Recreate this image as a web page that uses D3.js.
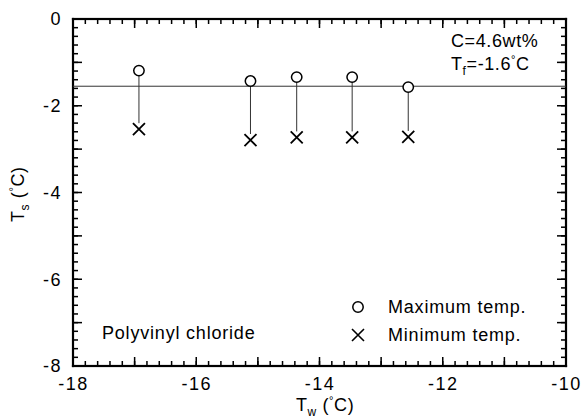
<!DOCTYPE html>
<html>
<head>
<meta charset="utf-8">
<script src="https://cdn.jsdelivr.net/npm/d3@7"></script>
<style>
  html, body { margin: 0; padding: 0; background: #fff; }
  svg { display: block; font-family: "Liberation Sans", Arial, Helvetica, sans-serif; }
</style>
</head>
<body>
<svg id="chart" width="582" height="419"></svg>
<script>
// ---- data ----
const waterTemp = [-16.93, -15.12, -14.37, -13.47, -12.56];      // T_w (°C)
const maxTemp   = [-1.19, -1.43, -1.34, -1.34, -1.57];           // Maximum temp. T_s
const minTemp   = [-2.54, -2.79, -2.73, -2.73, -2.72];           // Minimum temp. T_s
const freezeTemp = -1.55;                                        // T_f line
const xTickValues = [-18, -16, -14, -12, -10];
const yTickValues = [0, -2, -4, -6, -8];
const legendLabels = ["Maximum temp.", "Minimum temp."];
const material = "Polyvinyl chloride";

// ---- layout ----
const svg = d3.select("#chart");
const pL = 73, pR = 566, pT = 19, pB = 366;
const x = d3.scaleLinear().domain([-18, -10]).range([pL, pR]);
const y = d3.scaleLinear().domain([0, -8]).range([pT, pB]);
const fw = 2.2; // frame thickness

// frame as four filled bars (from the scales' extents)
const [x0, x1] = x.range(), [y0, y1] = y.range();
const bars = [
  { x: x0 - fw / 2, y: y0 - fw / 2, w: x1 - x0 + fw, h: fw },
  { x: x0 - fw / 2, y: y1 - fw / 2, w: x1 - x0 + fw, h: fw },
  { x: x0 - fw / 2, y: y0 - fw / 2, w: fw, h: y1 - y0 + fw },
  { x: x1 - fw / 2, y: y0 - fw / 2, w: fw, h: y1 - y0 + fw }
];
svg.append("g").selectAll("rect").data(bars).join("rect")
  .attr("x", d => d.x).attr("y", d => d.y).attr("width", d => d.w).attr("height", d => d.h)
  .attr("fill", "#000");

// inward ticks on all four sides, as thin filled rects
const minorX = d3.range(0, 41).map(i => -18 + i * 0.2);
const majorX = d3.range(0, 9).map(i => -18 + i);
const minorY = d3.range(0, 41).map(i => -i * 0.2);
const majorY = d3.range(0, 9).map(i => -i);
const tw = 1.5;
const tg = svg.append("g").attr("fill", "#000");
function xTicks(vals, len) {
  tg.append("g").selectAll("rect").data(vals).join("rect")
    .attr("x", d => x(d) - tw / 2).attr("y", y1 - len).attr("width", tw).attr("height", len);
  tg.append("g").selectAll("rect").data(vals).join("rect")
    .attr("x", d => x(d) - tw / 2).attr("y", y0).attr("width", tw).attr("height", len);
}
function yTicks(vals, len) {
  tg.append("g").selectAll("rect").data(vals).join("rect")
    .attr("y", d => y(d) - tw / 2).attr("x", x0).attr("height", tw).attr("width", len);
  tg.append("g").selectAll("rect").data(vals).join("rect")
    .attr("y", d => y(d) - tw / 2).attr("x", x1 - len).attr("height", tw).attr("width", len);
}
xTicks(minorX, 5); xTicks(majorX, 9);
yTicks(minorY, 5); yTicks(majorY, 9);

// tick labels
const xl = svg.append("g").attr("transform", `translate(0,${pB})`)
  .call(d3.axisBottom(x).tickValues(xTickValues).tickSize(0).tickPadding(11)
    .tickFormat(d => String(d)));
xl.select(".domain").remove();
xl.selectAll("text").attr("font-size", 18).attr("letter-spacing", 1.5).attr("fill", "#000")
  .attr("font-family", "Liberation Sans, Arial, sans-serif");

const yl = svg.append("g").attr("transform", `translate(${pL},0)`)
  .call(d3.axisLeft(y).tickValues(yTickValues).tickSize(0).tickPadding(11)
    .tickFormat(d => String(d)));
yl.select(".domain").remove();
yl.selectAll("text").attr("font-size", 18).attr("letter-spacing", 1.5).attr("fill", "#000")
  .attr("font-family", "Liberation Sans, Arial, sans-serif");

// freezing line
svg.append("line").attr("x1", pL).attr("x2", pR).attr("y1", y(freezeTemp)).attr("y2", y(freezeTemp))
  .attr("stroke", "#333").attr("stroke-width", 1);

// connectors
const pts = waterTemp.map((w, i) => ({ w, hi: maxTemp[i], lo: minTemp[i] }));
svg.append("g").selectAll("line").data(pts).join("line")
  .attr("x1", d => x(d.w)).attr("x2", d => x(d.w))
  .attr("y1", d => y(d.hi) + 5).attr("y2", d => y(d.lo) - 6)
  .attr("stroke", "#333").attr("stroke-width", 1);

// markers
const rad = 5.2, half = 6;
function crossPath(cx, cy) {
  return `M${cx - half},${cy - half}L${cx + half},${cy + half}M${cx - half},${cy + half}L${cx + half},${cy - half}`;
}
svg.append("g").selectAll("circle").data(pts).join("circle")
  .attr("cx", d => x(d.w)).attr("cy", d => y(d.hi)).attr("r", rad)
  .attr("fill", "#fff").attr("stroke", "#000").attr("stroke-width", 1.5);
svg.append("g").selectAll("path").data(pts).join("path")
  .attr("d", d => crossPath(x(d.w), y(d.lo)))
  .attr("fill", "none").attr("stroke", "#000").attr("stroke-width", 1.8);

// legend
const lg = svg.append("g").attr("font-size", 18).attr("letter-spacing", 0.8);
lg.append("circle").attr("cx", 358).attr("cy", 307).attr("r", rad)
  .attr("fill", "#fff").attr("stroke", "#000").attr("stroke-width", 1.5);
lg.append("path").attr("d", crossPath(358, 335)).attr("stroke", "#000").attr("stroke-width", 1.6);
lg.append("text").attr("x", 388).attr("y", 313).text(legendLabels[0]);
lg.append("text").attr("x", 388).attr("y", 341).text(legendLabels[1]);

// material label
svg.append("text").attr("x", 102).attr("y", 339).attr("font-size", 18)
  .attr("letter-spacing", 0.8).text(material);

// annotation
const an = svg.append("g").attr("font-size", 18).attr("letter-spacing", 0.6);
an.append("text").attr("x", 451).attr("y", 47).text("C=4.6wt%");
const tfText = an.append("text").attr("x", 451).attr("y", 70);
tfText.append("tspan").text("T");
tfText.append("tspan").attr("font-size", 12).attr("dy", 5).text("f");
tfText.append("tspan").attr("dy", -5).text("=-1.6");
tfText.append("tspan").attr("font-size", 11).attr("dy", -7).text("°");
tfText.append("tspan").attr("dy", 7).text("C");

// axis titles
const xtl = svg.append("text").attr("x", 296).attr("y", 411).attr("font-size", 18).attr("letter-spacing", 0.6);
xtl.append("tspan").text("T");
xtl.append("tspan").attr("font-size", 12).attr("dy", 5).text("w");
xtl.append("tspan").attr("dy", -5).text(" (");
xtl.append("tspan").attr("font-size", 11).attr("dy", -7).text("°");
xtl.append("tspan").attr("dy", 7).text("C)");

const ytl = svg.append("text").attr("transform", "translate(24,222) rotate(-90)")
  .attr("font-size", 18).attr("letter-spacing", 0.6);
ytl.append("tspan").text("T");
ytl.append("tspan").attr("font-size", 12).attr("dy", 5).text("s");
ytl.append("tspan").attr("dy", -5).text(" (");
ytl.append("tspan").attr("font-size", 11).attr("dy", -7).text("°");
ytl.append("tspan").attr("dy", 7).text("C)");
</script>
</body>
</html>
